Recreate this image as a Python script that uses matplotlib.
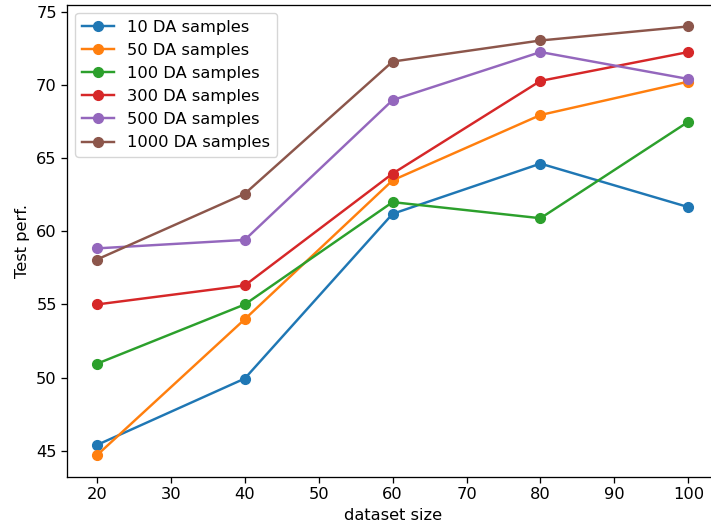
"""Test performance vs dataset size for several DA sample counts"""
import matplotlib
matplotlib.use("Agg")
import matplotlib.pyplot as plt

dataset_sizes = [20, 40, 60, 80, 100]
da_labels = ["10 DA samples", "50 DA samples", "100 DA samples",
             "300 DA samples", "500 DA samples", "1000 DA samples"]

perf_10 = [45.4, 49.94, 61.19, 64.62, 61.65]
perf_50 = [44.7, 53.99, 63.48, 67.94, 70.22]
perf_100 = [50.95, 55.0, 61.99, 60.89, 67.48]
perf_300 = [55.0, 56.3, 63.94, 70.27, 72.24]
perf_500 = [58.83, 59.41, 68.96, 72.24, 70.4]
perf_1000 = [58.07, 62.56, 71.59, 73.03, 73.99]

# the reference looks like a default figure scaled up by ~1.17
SCALE = 1.17
plt.rcParams.update({
    "font.size": 10 * SCALE,
    "lines.linewidth": 1.5 * SCALE,
    "lines.markersize": 6 * SCALE,
    "axes.linewidth": 0.8 * SCALE,
    "xtick.major.size": 3.5 * SCALE,
    "ytick.major.size": 3.5 * SCALE,
    "xtick.major.width": 0.8 * SCALE,
    "ytick.major.width": 0.8 * SCALE,
})


def main():
    fig = plt.figure(figsize=(7.11, 5.25), dpi=100)
    # axes run a little past the right edge, as in the reference crop
    ax = fig.add_axes([0.0947, 0.092, 0.915, 0.8985])

    series = [perf_10, perf_50, perf_100, perf_300, perf_500, perf_1000]
    for label, vals in zip(da_labels, series):
        ax.plot(dataset_sizes, vals, marker="o", label=label)

    ax.legend(loc="upper left")
    ax.set_xlabel("dataset size")
    ax.set_ylabel("Test perf.")
    fig.savefig("out.png", dpi=100)


if __name__ == "__main__":
    main()
